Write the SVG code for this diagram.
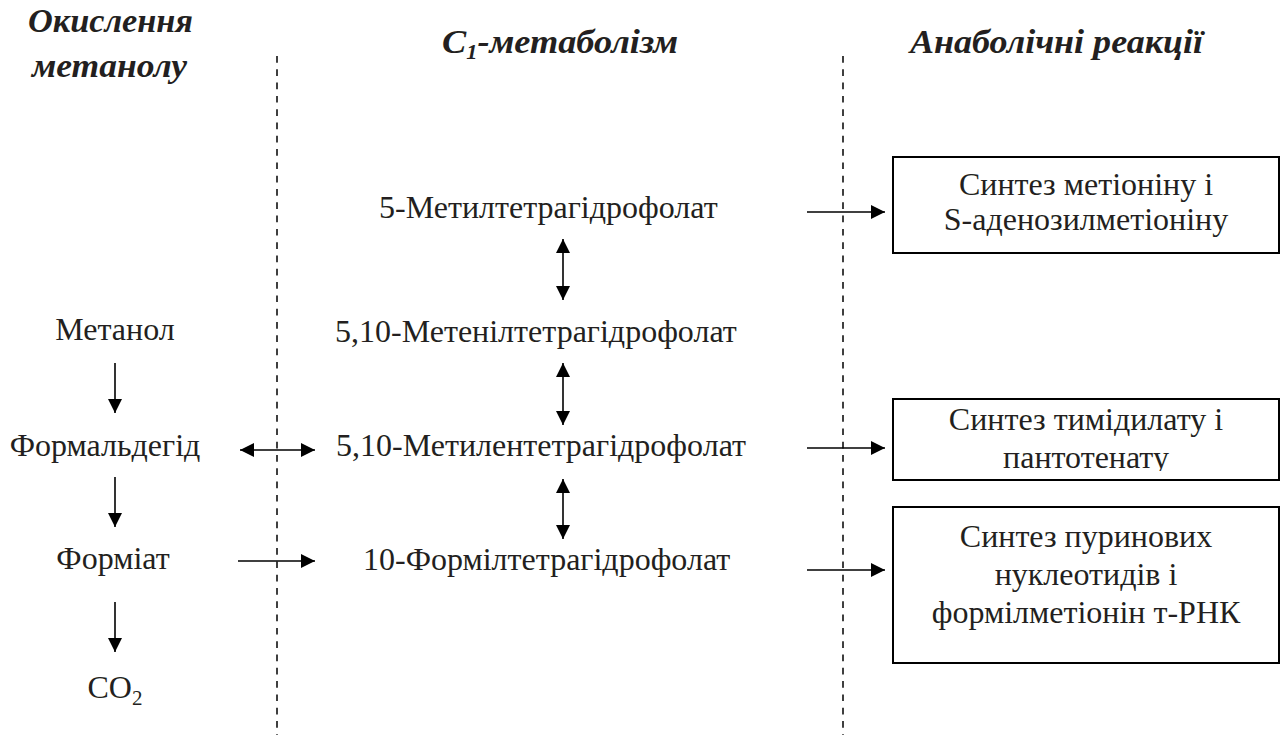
<svg xmlns="http://www.w3.org/2000/svg" width="1282" height="735" viewBox="0 0 1282 735">
<style>
.t{font-family:"Liberation Serif","Times New Roman",serif;font-size:32px;fill:#231f20}
.c{text-anchor:middle}
.h{font-family:"Liberation Serif","Times New Roman",serif;font-size:34px;font-weight:bold;font-style:italic;fill:#231f20}
.ln{stroke:#000;stroke-width:1.6;fill:none}
.dash{stroke:#000;stroke-width:1.5;stroke-dasharray:6.7 6.6;fill:none}
.box{fill:#fff;stroke:#000;stroke-width:2}
</style>
<defs>
<marker id="ah" viewBox="0 0 14 14" refX="14" refY="7" markerWidth="14" markerHeight="14" markerUnits="userSpaceOnUse" orient="auto-start-reverse">
<path d="M0,0 L14,7 L0,14 z" fill="#000"/>
</marker>
<clipPath id="clip2"><rect x="893" y="399" width="386" height="72"/></clipPath>
</defs>
<rect width="1282" height="735" fill="#fff"/>

<g id="headings">
<text class="h" x="28" y="32" textLength="165" lengthAdjust="spacingAndGlyphs">Окислення</text>
<text class="h" x="32" y="77" textLength="155" lengthAdjust="spacingAndGlyphs">метанолу</text>
<text class="h" x="442" y="53" textLength="236" lengthAdjust="spacingAndGlyphs">C<tspan font-size="21" dy="6">1</tspan><tspan dy="-6">-метаболізм</tspan></text>
<text class="h" x="910" y="53" textLength="293" lengthAdjust="spacingAndGlyphs">Анаболічні реакції</text>
</g>

<g id="separators">
<line class="dash" x1="277" y1="56" x2="277" y2="735"/>
<line class="dash" x1="843" y1="56" x2="843" y2="735"/>
</g>

<g id="n-metanol"><text class="t c" x="115" y="340">Метанол</text></g>
<g id="n-formaldehyde"><text class="t c" x="105" y="456">Формальдегід</text></g>
<g id="n-formiat"><text class="t c" x="113" y="569">Форміат</text></g>
<g id="n-co2"><text class="t c" x="115" y="698">CO<tspan font-size="21" dy="7">2</tspan></text></g>

<g id="n-5methyl"><text class="t" x="379" y="218">5-Метилтетрагідрофолат</text></g>
<g id="n-510methenyl"><text class="t" x="335" y="342">5,10-Метенілтетрагідрофолат</text></g>
<g id="n-510methylene"><text class="t" x="336" y="456">5,10-Метилентетрагідрофолат</text></g>
<g id="n-10formyl"><text class="t" x="363" y="570">10-Формілтетрагідрофолат</text></g>

<g id="n-box1">
<rect class="box" x="893" y="157" width="386" height="96"/>
<text class="t c" x="1086" y="195">Синтез метіоніну і</text>
<text class="t c" x="1086" y="230">S-аденозилметіоніну</text>
</g>
<g id="n-box2">
<rect class="box" x="893" y="399" width="386" height="81"/>
<g clip-path="url(#clip2)">
<text class="t c" x="1086" y="430">Синтез тимідилату і</text>
<text class="t c" x="1086" y="468">пантотенату</text>
</g>
</g>
<g id="n-box3">
<rect class="box" x="893" y="507" width="386" height="156"/>
<text class="t c" x="1086" y="547">Синтез пуринових</text>
<text class="t c" x="1086" y="585">нуклеотидів і</text>
<text class="t c" x="1086" y="623">формілметіонін т-РНК</text>
</g>

<g id="connectors">
<line class="ln" x1="115" y1="363" x2="115" y2="413" marker-end="url(#ah)"/>
<line class="ln" x1="115" y1="477" x2="115" y2="527" marker-end="url(#ah)"/>
<line class="ln" x1="115" y1="602" x2="115" y2="652" marker-end="url(#ah)"/>
<line class="ln" x1="240" y1="450" x2="315" y2="450" marker-start="url(#ah)" marker-end="url(#ah)"/>
<line class="ln" x1="238" y1="561" x2="315" y2="561" marker-end="url(#ah)"/>
<line class="ln" x1="563" y1="239" x2="563" y2="300" marker-start="url(#ah)" marker-end="url(#ah)"/>
<line class="ln" x1="563" y1="363" x2="563" y2="425" marker-start="url(#ah)" marker-end="url(#ah)"/>
<line class="ln" x1="563" y1="479" x2="563" y2="539" marker-start="url(#ah)" marker-end="url(#ah)"/>
<line class="ln" x1="807" y1="212" x2="885" y2="212" marker-end="url(#ah)"/>
<line class="ln" x1="807" y1="448" x2="885" y2="448" marker-end="url(#ah)"/>
<line class="ln" x1="807" y1="570" x2="885" y2="570" marker-end="url(#ah)"/>
</g>
</svg>
